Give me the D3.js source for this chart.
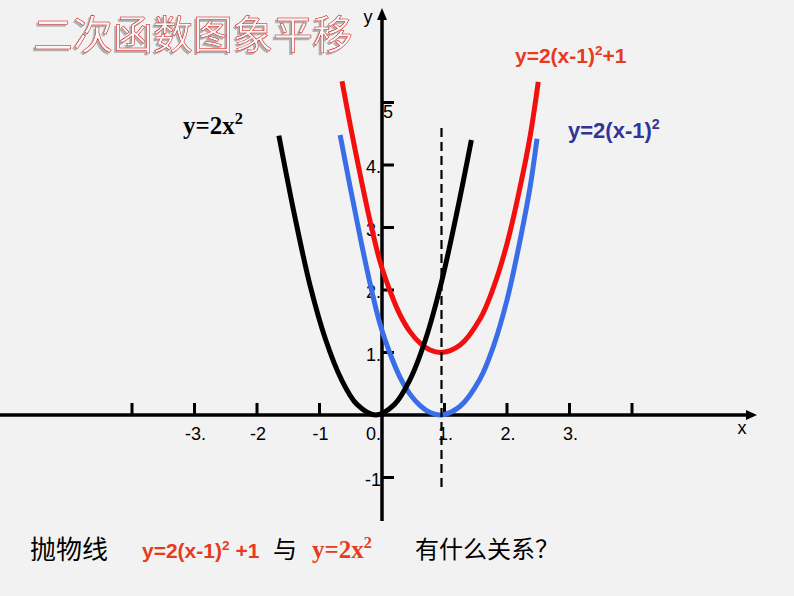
<!DOCTYPE html>
<html><head><meta charset="utf-8">
<script src="https://cdn.jsdelivr.net/npm/d3@7"></script>
<style>body{margin:0;background:#f2f2f2;} svg{display:block;}</style>
</head><body>
<svg id="c" width="794" height="596"></svg>
<script>
// ---- data ----
const titleText = "二次函数图象平移";
const xTickValues = [-4, -3, -2, -1, 1, 2, 3, 4];
const xLabelValues = [-3, -2, -1, 0, 1, 2, 3];
const xLabelTexts = ["-3.", "-2", "-1", "0.", "1.", "2.", "3."];
const yTickValues = [-1, 1, 2, 3, 4, 5];
const yLabelTexts = ["-1", "1.", "2.", "3.", "4.", "5"];
const axisNames = ["x", "y"];
const axisX = 1; // dashed symmetry line x = 1

const blackX = [-1.65, -1.4, -1.15, -0.9, -0.65, -0.4, -0.1, 0.2, 0.45, 0.7, 0.95, 1.2, 1.43];
const blackY = [4.47, 3.2, 2.07, 1.2, 0.57, 0.17, 0, 0.17, 0.57, 1.22, 2.12, 3.25, 4.4];

const blueX = [-0.67, -0.51, -0.35, -0.19, -0.03, 0.13, 0.29, 0.45, 0.61, 0.77, 0.95, 1.25, 1.57, 1.78, 2.0, 2.21, 2.37, 2.48];
const blueY = [4.48, 3.65, 2.85, 2.1, 1.45, 0.98, 0.6, 0.33, 0.15, 0.04, 0, 0.14, 0.58, 1.09, 1.84, 2.8, 3.65, 4.42];

const redX = [-0.64, -0.51, -0.35, -0.19, -0.03, 0.13, 0.29, 0.45, 0.61, 0.77, 0.95, 1.25, 1.57, 1.78, 2.0, 2.21, 2.37, 2.5];
const redY = [5.34, 4.65, 3.85, 3.1, 2.45, 1.98, 1.6, 1.33, 1.15, 1.04, 1.0, 1.12, 1.54, 2.03, 2.74, 3.65, 4.46, 5.33];

// ---- drawing ----
const svg = d3.select("#c");
const x = d3.scaleLinear().domain([-4, 4]).range([132, 632]);
const y = d3.scaleLinear().domain([-1, 5]).range([477.5, 102.5]);
const x0 = x(0), y0 = y(0);

const defs = svg.append("defs");
const f = defs.append("filter").attr("id", "emb").attr("x", "-10%").attr("y", "-20%").attr("width", "120%").attr("height", "150%");
f.append("feOffset").attr("in", "SourceAlpha").attr("dx", -2).attr("dy", 2).attr("result", "off");
f.append("feFlood").attr("flood-color", "#b0b0b0").attr("result", "col");
f.append("feComposite").attr("in", "col").attr("in2", "off").attr("operator", "in").attr("result", "sh");
const m = f.append("feMerge");
m.append("feMergeNode").attr("in", "sh");
m.append("feMergeNode").attr("in", "SourceGraphic");

svg.append("rect").attr("width", 794).attr("height", 596).attr("fill", "#f2f2f2");

// title (embossed look)
svg.append("text").attr("x", 33).attr("y", 49).text(titleText)
  .attr("font-family", "'Noto Sans CJK SC'").attr("font-size", 40).attr("fill", "#f7f7f7")
  .attr("stroke", "#d40000").attr("stroke-width", 0.5).attr("filter", "url(#emb)");

// x axis
svg.append("line").attr("x1", 0).attr("x2", 748).attr("y1", y0).attr("y2", y0)
  .attr("stroke", "#000").attr("stroke-width", 3.5);
svg.append("path").attr("d", `M757,${y0} L746,${y0-5} L746,${y0+5} Z`).attr("fill", "#000");
svg.selectAll(".xt").data(xTickValues).enter().append("line")
  .attr("x1", d => x(d)).attr("x2", d => x(d)).attr("y1", y0).attr("y2", y0 - 12)
  .attr("stroke", "#000").attr("stroke-width", 3);
svg.selectAll(".xl").data(xLabelValues).enter().append("text")
  .attr("x", d => d === 0 ? x0 - 1 : x(d) + 1)
  .attr("text-anchor", d => d === 0 ? "end" : "middle")
  .attr("y", 440).text((d, i) => xLabelTexts[i])
  .attr("font-family", "'Liberation Sans', Arial").attr("font-size", 18).attr("fill", "#000");
svg.append("text").attr("x", 742).attr("y", 434).attr("text-anchor", "middle").text(axisNames[0])
  .attr("font-family", "'Liberation Sans', Arial").attr("font-size", 18);

// y axis
svg.append("line").attr("x1", x0).attr("x2", x0).attr("y1", 521).attr("y2", 16)
  .attr("stroke", "#000").attr("stroke-width", 3.5);
svg.append("path").attr("d", `M${x0},8 L${x0-5},20 L${x0+5},20 Z`).attr("fill", "#000");
svg.selectAll(".yt").data(yTickValues).enter().append("line")
  .attr("x1", x0).attr("x2", x0 + 12).attr("y1", d => y(d)).attr("y2", d => y(d))
  .attr("stroke", "#000").attr("stroke-width", 3);
svg.selectAll(".yl").data(yTickValues).enter().append("text")
  .attr("x", d => d === 5 ? x0 + 1 : x0 - 1)
  .attr("text-anchor", d => d === 5 ? "start" : "end")
  .attr("y", d => d === 5 ? y(d) + 15 : y(d) + 8)
  .text((d, i) => yLabelTexts[i])
  .attr("font-family", "'Liberation Sans', Arial").attr("font-size", 18).attr("fill", "#000");
svg.append("text").attr("x", 368).attr("y", 23).attr("text-anchor", "middle").text(axisNames[1])
  .attr("font-family", "'Liberation Sans', Arial").attr("font-size", 18);

// curves
const line = d3.line().x(d => x(d[0])).y(d => y(d[1])).curve(d3.curveCatmullRom.alpha(0.5));
function curve(xs, ys, color) {
  svg.append("path").attr("d", line(xs.map((v, i) => [v, ys[i]])))
    .attr("fill", "none").attr("stroke", color).attr("stroke-width", 5);
}
curve(blueX, blueY, "#3a6ee8");
curve(redX, redY, "#f40f0f");
curve(blackX, blackY, "#000");

// dashed symmetry line
svg.append("line").attr("x1", x(axisX) - 3).attr("x2", x(axisX) - 3).attr("y1", 128).attr("y2", 487)
  .attr("stroke", "#000").attr("stroke-width", 2.2).attr("stroke-dasharray", "9,5");

// curve labels
function formula(g, xp, yp, parts, opts) {
  const t = g.append("text").attr("x", xp).attr("y", yp)
    .attr("font-family", opts.family).attr("font-size", opts.size)
    .attr("font-weight", "bold").attr("fill", opts.color);
  parts.forEach(p => {
    if (p.sup) t.append("tspan").attr("dy", -opts.size * 0.4).attr("font-size", opts.size * 0.65).text(p.t);
    else t.append("tspan").attr("dy", p.after ? opts.size * 0.4 : 0).text(p.t);
  });
  return t;
}
const sans = "'Liberation Sans', Arial", serif = "'Liberation Serif', 'Times New Roman'";
formula(svg, 183, 134, [{t: "y=2x"}, {t: "2", sup: true}], {family: serif, size: 25, color: "#000"});
formula(svg, 515, 63, [{t: "y=2(x-1)"}, {t: "2", sup: true}, {t: "+1", after: true}], {family: sans, size: 21, color: "#e63b1e"});
formula(svg, 568, 138, [{t: "y=2(x-1)"}, {t: "2", sup: true}], {family: sans, size: 22, color: "#333399"});

// bottom question
const cjk = "'Noto Sans CJK SC'";
svg.append("text").attr("x", 30).attr("y", 559).text("抛物线").attr("font-family", cjk).attr("font-size", 26);
formula(svg, 142, 558, [{t: "y=2(x-1)"}, {t: "2", sup: true}, {t: " +1", after: true}], {family: sans, size: 21, color: "#e63b1e"});
svg.append("text").attr("x", 273).attr("y", 558).text("与").attr("font-family", cjk).attr("font-size", 24);
formula(svg, 312, 558, [{t: "y=2x"}, {t: "2", sup: true}], {family: serif, size: 25, color: "#e63b1e"});
svg.append("text").attr("x", 415).attr("y", 558).text("有什么关系？").attr("font-family", cjk).attr("font-size", 24);
</script>
</body></html>
